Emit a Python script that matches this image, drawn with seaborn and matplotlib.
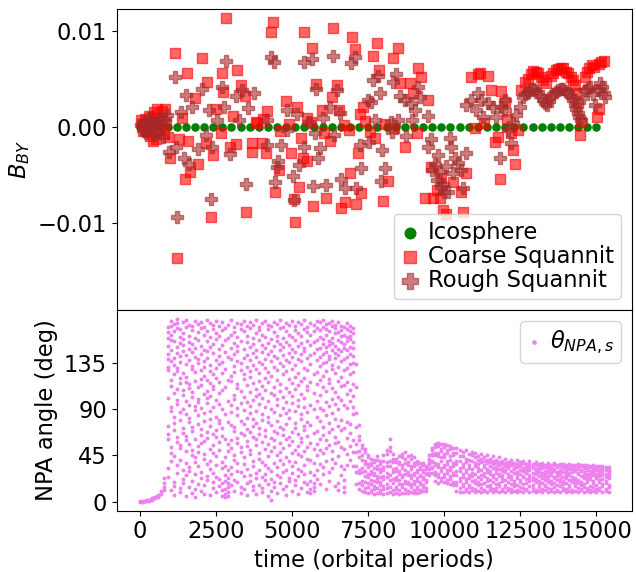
import numpy as np
import matplotlib
matplotlib.use("Agg")
import matplotlib.pyplot as plt
import seaborn as sns

# --- top panel: B_BY (values in units of 1e-3) ---
ico_t = [0, 300, 600, 900, 1200, 1500, 1800, 2100, 2400, 2700, 3000, 3300, 3600, 3900,
         4200, 4500, 4800, 5100, 5400, 5700, 6000, 6300, 6600, 6900, 7200, 7500, 7800,
         8100, 8400, 8700, 9000, 9300, 9600, 9900, 10200, 10500, 10800, 11100, 11400,
         11700, 12000, 12300, 12600, 12900, 13200, 13500, 13800, 14100, 14400, 14700, 15000]
ico_b = [0.0] * len(ico_t)

coarse_t = [30, 60, 100, 150, 200, 230, 280, 330, 380, 420, 459, 500, 524, 560, 620, 680,
            730, 780, 819, 860, 900, 983, 1146, 1212, 1277, 1376, 1474, 1540, 1572, 1638,
            1801, 1900, 2031, 2162, 2195, 2326, 2391, 2489, 2653, 2686, 2719, 2817, 2948,
            3046, 3144, 3177, 3308, 3439, 3472, 3669, 3690, 3800, 3832, 3996, 4050, 4127,
            4160, 4291, 4356, 4422, 4553, 4600, 4782, 4900, 4946, 5044, 5077, 5143, 5208,
            5273, 5339, 5372, 5470, 5500, 5601, 5634, 5699, 5798, 5994, 6050, 6125, 6256,
            6322, 6355, 6486, 6551, 6617, 6700, 6748, 6878, 6911, 6977, 7075, 7108, 7173,
            7239, 7272, 7337, 7400, 7550, 7665, 7730, 7790, 7861, 7992, 8050, 8156, 8320,
            8330, 8484, 8549, 8713, 8877, 8975, 9100, 9139, 9237, 9370, 9466, 9564, 9630,
            9750, 9850, 9892, 9957, 10056, 10285, 10547, 10613, 10711, 10875, 11006, 11104,
            11180, 11300, 11431, 11530, 11661, 11750, 11825, 11857, 11988, 12050, 12185,
            12250, 12316, 12414, 12512, 12643, 12740, 12840, 12920, 13004, 13080, 13167,
            13250, 13331, 13495, 13580, 13659, 13740, 13823, 13900, 13986, 14070, 14150,
            14220, 14281, 14314, 14380, 14445, 14478, 14641, 14700, 14772, 14850, 14936,
            15034, 15070, 15100, 15165, 15250]
coarse_b = [0.7, 0.3, -0.4, 0.8, 0.2, -0.5, 1.2, -0.9, 0.4, -1.5, 1.6, 0.9, -1.2, 1.9, -0.3,
            0.6, 1.7, -0.7, 1.9, 0.3, -1.0, -3.2, 7.7, -13.7, -1.2, 1.0, -5.4, 5.6, -1.5, -4.7,
            3.0, -3.9, 7.2, -1.7, 4.7, -9.4, -2.9, 1.9, -0.6, 5.7, 3.7, 11.4, -2.1, 1.2, -1.8,
            6.0, 4.4, 3.2, -8.9, -1.7, -2.6, 0.5, 0.4, -1.7, 0.8, -2.7, 1.7, 9.9, 11.0, -6.8,
            -4.5, -0.4, 2.7, 0.3, -2.7, -7.5, -9.9, 2.1, -6.3, -1.1, -3.2, 9.9, -3.5, 0.9, 0.5,
            8.3, -8.2, 4.5, 1.8, -0.6, -7.4, -1.5, 3.1, 10.3, 4.4, 1.8, -8.4, 0.2, -7.8, -0.3,
            -4.8, 9.4, 8.2, -8.0, -2.7, 1.4, -6.9, 2.1, 0.6, -0.5, 7.4, -1.1, 8.8, 6.0, -7.7,
            0.3, -5.6, 7.2, -0.1, 8.3, 4.6, -2.1, 4.6, 3.6, -0.6, 6.2, 5.2, -7.4, 2.8, -4.2,
            -7.4, -6.6, -7.4, -5.3, -8.7, -9.1, -5.7, -6.8, -8.9, -4.8, 5.2, -0.1, 5.5, 5.7,
            0.4, 5.3, 3.9, -1.6, -1.0, -5.4, 3.8, 2.6, 0.8, -0.6, -2.4, -3.9, -0.3, 3.9, 4.7,
            5.0, 5.5, 5.9, 5.8, 5.6, 5.2, 4.9, 4.6, 5.3, 5.7, 6.0, 6.1, 6.2, 6.2, 5.8, 5.6,
            5.2, 4.9, 4.4, 3.6, 2.5, -0.8, 0.5, 5.2, 5.8, 6.2, 6.5, 6.3, 1.1, 1.9, 6.6, 6.8,
            6.9]

rough_t = [20, 80, 130, 180, 240, 300, 350, 400, 450, 510, 570, 640, 700, 760, 820, 880,
           950, 1146, 1179, 1212, 1343, 1441, 1507, 1605, 1703, 1900, 2031, 2162, 2260, 2326,
           2358, 2522, 2686, 2751, 2817, 2948, 3144, 3243, 3341, 3472, 3537, 3734, 4160,
           4170, 4291, 4389, 4422, 4487, 4520, 4618, 4815, 4830, 5011, 5044, 5143, 5208,
           5372, 5390, 5536, 5634, 5699, 5765, 5798, 5863, 5929, 6027, 6125, 6256, 6355,
           6370, 6486, 6584, 6617, 6748, 6944, 7075, 7090, 7239, 7272, 7501, 7520, 7599,
           7665, 7730, 7828, 7894, 7927, 7960, 8058, 8254, 8270, 8320, 8418, 8484, 8549,
           8713, 8730, 8910, 8925, 9040, 9139, 9204, 9466, 9480, 9564, 9600, 9696, 9750,
           9794, 9859, 9900, 9957, 10000, 10050, 10121, 10187, 10219, 10300, 10350, 10449,
           10547, 10613, 10711, 10720, 10875, 11038, 11104, 11202, 11267, 11431, 11595,
           11693, 11825, 11857, 11988, 12000, 12086, 12185, 12250, 12349, 12480, 12578,
           12650, 12742, 12820, 12905, 12990, 13069, 13150, 13233, 13300, 13364, 13430,
           13495, 13580, 13659, 13740, 13823, 13900, 13986, 14070, 14150, 14220, 14281,
           14330, 14379, 14430, 14478, 14550, 14641, 14720, 14805, 14890, 14969, 15050,
           15133, 15200, 15264, 15297]
rough_b = [0.2, -0.3, 0.5, -0.6, 0.3, 0.9, -0.2, 0.6, -0.8, 0.4, -0.5, 1.0, 0.1, -1.0, 0.8,
           1.3, -2.6, 5.2, -2.1, -9.4, 1.6, -3.2, 3.4, -3.8, 2.1, -2.3, 4.0, -0.8, 1.8, -7.5,
           -2.1, 0.7, 4.2, 2.1, 6.9, -2.8, 3.3, 0.7, 3.9, -5.9, 2.0, 3.6, 0.7, -1.9, 7.3, 6.8,
           -5.7, -4.2, -3.5, -1.9, 1.8, -0.3, -5.1, -7.6, 1.4, -4.0, 6.8, -2.1, 0.5, 7.1,
           -6.1, -0.6, 4.0, -3.2, -2.2, 0.9, -6.0, 2.1, 7.4, -0.8, 3.9, 1.5, -5.4, -6.4, 6.7,
           7.3, -6.4, -1.9, -4.3, 2.8, -1.6, 2.6, 4.9, 0.7, 5.3, 3.6, -5.6, -2.4, -4.3, 0.5,
           -0.5, 4.7, 5.5, 0.7, 3.2, 2.8, -0.9, 2.5, 0.7, 1.8, 4.2, 3.1, 1.2, -2.1, -1.2,
           -4.5, -3.8, -5.5, -2.9, -4.7, -6.3, -5.9, -6.8, -4.1, -6.8, -1.1, -2.1, -4.8,
           -3.2, -3.7, -4.5, -6.4, -2.7, 2.3, 2.8, 1.8, 3.6, 2.8, 1.1, 2.5, 2.1, 1.1, -3.2,
           2.1, 1.8, 2.8, -0.3, -1.7, 0.4, 1.3, 2.1, 3.1, 3.5, 3.7, 3.9, 4.0, 3.9, 3.7, 3.3,
           2.8, 2.5, 2.3, 2.7, 3.2, 3.5, 3.7, 3.9, 4.0, 4.0, 3.8, 3.6, 3.3, 2.8, 2.3, 1.9,
           1.5, 1.1, 0.7, 3.0, 3.9, 4.1, 4.2, 3.5, 2.3, 3.9, 4.6, 4.2, 3.6, 3.1]

# --- bottom panel: NPA angle (deg), several samples per time step ---
npa_t = [0, 100, 200, 300, 400, 500, 600, 700, 800, 900, 1000, 1100, 1200, 1300, 1400,
         1500, 1600, 1700, 1800, 1900, 2000, 2100, 2200, 2300, 2400, 2500, 2600, 2700,
         2800, 2900, 3000, 3100, 3200, 3300, 3400, 3500, 3600, 3700, 3800, 3900, 4000,
         4100, 4200, 4300, 4400, 4500, 4600, 4700, 4800, 4900, 5000, 5100, 5200, 5300,
         5400, 5500, 5600, 5700, 5800, 5900, 6000, 6100, 6200, 6300, 6400, 6500, 6600,
         6700, 6800, 6900, 7000, 7100, 7200, 7300, 7400, 7500, 7600, 7700, 7800, 7900,
         8000, 8100, 8200, 8300, 8400, 8500, 8600, 8700, 8800, 8900, 9000, 9100, 9200,
         9300, 9400, 9500, 9600, 9700, 9800, 9900, 10000, 10100, 10200, 10300, 10400,
         10500, 10600, 10700, 10800, 10900, 11000, 11100, 11200, 11300, 11400, 11500,
         11600, 11700, 11800, 11900, 12000, 12100, 12200, 12300, 12400, 12500, 12600,
         12700, 12800, 12900, 13000, 13100, 13200, 13300, 13400, 13500, 13600, 13700,
         13800, 13900, 14000, 14100, 14200, 14300, 14400, 14500, 14600, 14700, 14800,
         14900, 15000, 15100, 15200, 15300, 15400]
npa_deg = [
    [0, 1], [0, 1, 0], [1, 1, 2], [1, 2, 2], [2, 3, 3], [3, 4, 4], [4, 5, 6], [7, 8, 10],
    [11, 14, 18, 23],
    [24, 33, 61, 66, 74, 101, 128, 131, 139, 144, 152, 160, 165, 170],
    [11, 40, 47, 53, 88, 92, 113, 119, 137, 148, 158, 163, 171, 176],
    [6, 15, 19, 44, 70, 77, 83, 106, 124, 133, 140, 157, 166, 173],
    [28, 36, 58, 63, 95, 99, 110, 127, 130, 145, 151, 169, 174, 178],
    [9, 13, 41, 52, 55, 80, 87, 116, 121, 136, 142, 155, 161, 168],
    [18, 22, 31, 67, 72, 90, 104, 109, 125, 147, 153, 159, 164, 175],
    [5, 26, 38, 49, 60, 64, 85, 98, 117, 122, 134, 143, 170, 177],
    [14, 30, 34, 56, 78, 82, 94, 111, 115, 138, 149, 156, 162, 172],
    [8, 20, 45, 50, 69, 73, 102, 107, 129, 132, 146, 154, 167, 171],
    [4, 12, 27, 39, 43, 61, 89, 93, 118, 126, 141, 150, 160, 176],
    [17, 35, 48, 54, 76, 84, 97, 100, 112, 135, 139, 158, 165, 173],
    [10, 23, 29, 57, 65, 71, 91, 114, 120, 128, 144, 152, 169, 175],
    [7, 16, 42, 46, 59, 79, 86, 105, 123, 131, 137, 148, 163, 170],
    [21, 25, 37, 62, 68, 96, 101, 108, 119, 140, 147, 157, 166, 177],
    [6, 32, 40, 51, 74, 81, 88, 103, 116, 127, 133, 151, 161, 174],
    [13, 19, 28, 47, 55, 66, 92, 110, 113, 124, 145, 154, 168, 172],
    [9, 24, 36, 44, 63, 70, 83, 99, 121, 130, 138, 159, 164, 176],
    [15, 22, 50, 58, 77, 80, 95, 106, 117, 134, 142, 149, 162, 171],
    [5, 11, 18, 33, 39, 64, 72, 90, 109, 125, 136, 153, 167, 175],
    [4, 7, 12, 20, 26, 35, 43, 61, 85, 112, 129, 146, 158, 169],
    [5, 9, 14, 18, 23, 31, 49, 56, 78, 98, 119, 141, 160, 172],
    [16, 27, 34, 52, 60, 75, 87, 94, 118, 123, 139, 150, 163, 177],
    [10, 21, 41, 45, 69, 73, 100, 104, 126, 132, 144, 155, 165, 170],
    [19, 30, 38, 57, 62, 84, 91, 111, 115, 137, 147, 152, 161, 174],
    [8, 14, 29, 48, 53, 67, 79, 96, 108, 128, 135, 157, 168, 173],
    [12, 25, 37, 43, 65, 76, 89, 102, 120, 124, 140, 149, 166, 176],
    [6, 18, 32, 54, 59, 71, 82, 97, 114, 131, 143, 156, 162, 171],
    [20, 26, 46, 50, 68, 86, 93, 107, 122, 127, 138, 151, 169, 175],
    [11, 15, 35, 40, 63, 74, 81, 99, 116, 133, 145, 154, 160, 172],
    [7, 23, 28, 55, 61, 77, 88, 103, 110, 129, 141, 148, 164, 177],
    [16, 31, 42, 47, 66, 72, 95, 105, 118, 125, 136, 158, 167, 170],
    [9, 13, 24, 39, 58, 80, 85, 101, 113, 134, 146, 153, 163, 174],
    [21, 27, 36, 51, 64, 70, 92, 109, 121, 130, 139, 150, 161, 176],
    [5, 17, 33, 44, 56, 78, 83, 98, 117, 126, 144, 155, 168, 172],
    [2, 10, 22, 30, 49, 62, 75, 90, 106, 123, 137, 147, 159, 171],
    [14, 19, 38, 53, 60, 69, 87, 104, 112, 131, 142, 152, 165, 175],
    [8, 26, 34, 45, 67, 79, 94, 100, 119, 128, 140, 157, 162, 173],
    [18, 24, 41, 48, 57, 73, 84, 108, 115, 135, 148, 154, 169, 177],
    [12, 29, 37, 52, 65, 71, 91, 102, 124, 132, 143, 151, 160, 170],
    [6, 15, 31, 43, 61, 76, 86, 97, 111, 127, 138, 156, 166, 174],
    [20, 23, 40, 55, 63, 82, 89, 107, 120, 136, 145, 153, 163, 172],
    [10, 28, 35, 47, 59, 68, 96, 103, 116, 129, 141, 149, 161, 176],
    [16, 21, 39, 50, 72, 77, 88, 110, 122, 133, 146, 158, 167, 171],
    [7, 25, 32, 46, 54, 66, 93, 99, 114, 125, 139, 152, 164, 175],
    [13, 30, 44, 58, 62, 81, 85, 105, 118, 137, 144, 155, 162, 173],
    [19, 27, 36, 49, 70, 74, 92, 101, 121, 130, 147, 150, 168, 177],
    [9, 17, 42, 53, 64, 78, 87, 109, 113, 128, 140, 157, 165, 170],
    [8, 12, 20, 29, 41, 57, 75, 94, 117, 134, 143, 153, 163, 174],
    [10, 14, 18, 26, 38, 51, 67, 90, 106, 124, 145, 156, 166, 172],
    [22, 31, 45, 56, 69, 83, 98, 115, 126, 138, 149, 158, 169, 176],
    [17, 37, 50, 61, 79, 91, 104, 119, 132, 141, 150, 161, 167, 175],
    [27, 34, 47, 65, 73, 89, 112, 123, 135, 144, 154, 159, 170, 177],
    [12, 40, 52, 60, 84, 97, 108, 127, 136, 146, 151, 163, 168, 173],
    [20, 29, 55, 68, 77, 93, 116, 120, 139, 142, 153, 157, 166, 174],
    [33, 42, 49, 71, 86, 100, 111, 129, 133, 148, 155, 160, 171, 176],
    [15, 38, 57, 63, 81, 95, 107, 125, 140, 145, 152, 164, 169, 172],
    [11, 18, 44, 58, 74, 90, 102, 118, 131, 143, 149, 158, 165, 175],
    [26, 35, 53, 70, 80, 99, 113, 122, 137, 147, 156, 162, 167, 171],
    [9, 14, 21, 32, 51, 72, 94, 114, 128, 139, 150, 154, 163, 170],
    [36, 46, 62, 78, 91, 105, 117, 130, 141, 148, 157, 161, 168, 174],
    [41, 54, 67, 76, 98, 109, 124, 134, 144, 151, 159, 162, 166, 171],
    [35, 48, 60, 85, 92, 103, 115, 126, 135, 142, 150, 156, 164, 169],
    [17, 29, 35, 48, 56, 73, 86, 112, 134],
    [12, 18, 28, 31, 43, 49, 60, 64, 75],
    [10, 16, 20, 29, 33, 41, 45, 52, 55],
    [9, 13, 19, 25, 30, 37, 40, 48, 51],
    [8, 14, 18, 24, 27, 34, 37, 43, 45],
    [9, 11, 17, 21, 27, 30, 36, 38, 42],
    [7, 12, 15, 20, 26, 28, 33, 39, 41],
    [8, 13, 19, 22, 25, 32, 35, 41, 44],
    [8, 11, 16, 19, 24, 29, 32, 37, 40],
    [7, 12, 15, 22, 25, 31, 34, 40, 45],
    [8, 13, 17, 24, 28, 35, 39, 46, 50],
    [9, 14, 21, 26, 35, 40, 49, 53, 61],
    [7, 11, 18, 22, 29, 32, 39, 42, 46],
    [8, 12, 14, 21, 24, 30, 33, 39, 42],
    [7, 11, 17, 21, 27, 30, 37, 39, 44],
    [8, 14, 17, 24, 26, 33, 36, 43, 46],
    [8, 12, 18, 20, 27, 31, 38, 42, 48],
    [8, 10, 17, 19, 26, 29, 36, 39, 44],
    [9, 14, 17, 23, 26, 32, 35, 42, 45],
    [8, 11, 17, 20, 26, 28, 35, 38, 43],
    [8, 12, 14, 20, 23, 29, 31, 37, 40],
    [9, 11, 17, 19, 25, 26, 32, 34, 38],
    [10, 14, 16, 22, 24, 29, 31, 36, 38],
    [10, 13, 19, 21, 27, 28, 32, 34, 35],
    [26, 28, 32, 33, 37, 38, 41, 42, 45],
    [28, 33, 34, 39, 40, 45, 46, 50, 52],
    [20, 26, 29, 36, 38, 45, 47, 53, 56],
    [18, 24, 27, 34, 37, 44, 47, 54, 57],
    [20, 23, 30, 33, 40, 43, 49, 51, 56],
    [19, 24, 27, 34, 36, 43, 46, 53, 56],
    [18, 21, 28, 31, 37, 40, 47, 50, 55],
    [17, 22, 25, 31, 34, 41, 44, 51, 54],
    [16, 19, 26, 28, 35, 38, 45, 47, 52],
    [10, 16, 19, 26, 30, 37, 40, 47, 52],
    [9, 13, 20, 23, 30, 33, 40, 44, 50],
    [9, 15, 17, 24, 27, 34, 37, 44, 48],
    [10, 12, 19, 22, 29, 31, 39, 42, 50],
    [9, 14, 16, 23, 26, 33, 36, 41, 46],
    [11, 13, 20, 25, 28, 32, 40, 45, 48],
    [9, 12, 18, 21, 27, 35, 38, 43, 47],
    [10, 16, 19, 24, 30, 33, 37, 41, 44],
    [9, 13, 17, 22, 26, 31, 39, 42, 46],
    [10, 11, 18, 25, 28, 34, 36, 40, 43],
    [9, 15, 20, 23, 29, 32, 38, 41, 45],
    [11, 14, 16, 21, 27, 30, 35, 39, 42],
    [9, 12, 19, 24, 26, 33, 37, 40, 44],
    [10, 13, 17, 22, 28, 31, 34, 38, 41],
    [9, 15, 18, 25, 27, 32, 36, 39, 43],
    [10, 12, 20, 23, 26, 30, 33, 37, 40],
    [9, 14, 16, 21, 29, 31, 35, 38, 42],
    [11, 13, 19, 24, 27, 33, 34, 36, 39],
    [9, 12, 17, 22, 25, 30, 36, 38, 41],
    [10, 15, 18, 20, 28, 32, 33, 35, 38],
    [9, 11, 16, 23, 26, 29, 34, 37, 41],
    [10, 14, 19, 21, 27, 31, 35, 36, 39],
    [9, 13, 17, 24, 25, 30, 33, 38, 40],
    [11, 12, 18, 22, 28, 29, 32, 35, 37],
    [9, 15, 20, 23, 26, 31, 34, 37, 40],
    [10, 13, 16, 21, 24, 28, 33, 35, 37],
    [9, 11, 19, 22, 27, 30, 32, 36, 39],
    [10, 14, 17, 20, 25, 29, 31, 34, 37],
    [9, 12, 18, 23, 26, 28, 33, 35, 38],
    [11, 15, 16, 21, 24, 27, 30, 34, 36],
    [9, 13, 19, 22, 25, 29, 32, 35, 38],
    [10, 12, 17, 20, 26, 28, 31, 33, 36],
    [9, 14, 18, 23, 24, 30, 32, 36, 38],
    [10, 11, 16, 21, 25, 27, 29, 34, 36],
    [9, 15, 19, 22, 26, 28, 31, 35, 37],
    [11, 13, 17, 20, 24, 29, 33, 34, 37],
    [9, 12, 18, 23, 25, 27, 30, 33, 36],
    [10, 14, 16, 21, 26, 28, 32, 35, 37],
    [9, 11, 19, 22, 24, 29, 31, 34, 36],
    [10, 15, 17, 20, 23, 30, 33, 35, 36],
    [9, 13, 18, 21, 27, 28, 32, 34, 37],
    [11, 12, 16, 19, 25, 30, 31, 35, 36],
    [9, 14, 17, 23, 26, 29, 33, 34, 36],
    [10, 13, 19, 21, 24, 27, 31, 33, 36],
    [9, 11, 15, 22, 25, 28, 30, 34, 35],
    [10, 14, 18, 20, 26, 29, 32, 33, 36],
    [9, 12, 16, 23, 24, 27, 31, 34, 35],
    [11, 13, 19, 21, 25, 28, 30, 33, 35],
    [9, 15, 17, 22, 26, 29, 32, 34, 35],
    [10, 12, 18, 20, 24, 27, 31, 33, 34],
    [9, 14, 16, 23, 25, 28, 30, 32, 34],
]

plt.rcParams["font.size"] = 16.3

fig = plt.figure(figsize=(6.36, 5.72), dpi=100)
ax1 = fig.add_axes([0.1835, 0.458, 0.8102, 0.5257])
ax2 = fig.add_axes([0.1835, 0.1072, 0.8102, 0.3508], sharex=ax1)

sns.scatterplot(x=ico_t, y=ico_b, ax=ax1, color="green", marker="o", s=38,
                linewidth=0, label="Icosphere")
sns.scatterplot(x=coarse_t, y=np.array(coarse_b) * 1e-3, ax=ax1, color="red", marker="s",
                s=42, alpha=0.6, edgecolor="red", linewidth=1, label="Coarse Squannit")
sns.scatterplot(x=rough_t, y=np.array(rough_b) * 1e-3, ax=ax1, color="brown", marker="P",
                s=64, alpha=0.6, edgecolor="brown", linewidth=1, label="Rough Squannit")
ax1.set_ylim(-0.0191, 0.0123)
ax1.set_yticks([-0.01, 0.0, 0.01])
ax1.set_ylabel("$B_{BY}$")
ax1.tick_params(labelbottom=False)
ax1.legend(loc="lower right", markerscale=1.4, handlelength=0.8, handletextpad=0.4,
           labelspacing=0.05, borderpad=0.3)

t_flat = np.repeat(npa_t, [len(r) for r in npa_deg])
deg_flat = np.concatenate(npa_deg)
sns.scatterplot(x=t_flat, y=deg_flat, ax=ax2, color="violet", marker="o", s=8,
                linewidth=0, label=r"$\theta_{NPA,s}$")
ax2.set_yticks([0, 45, 90, 135])
ax2.set_ylabel("NPA angle (deg)")
ax2.set_xlabel("time (orbital periods)")
ax2.set_xticks([0, 2500, 5000, 7500, 10000, 12500, 15000])
ax2.legend(loc="upper right", markerscale=1.2, handlelength=0.6, handletextpad=0.4,
           borderpad=0.3)

fig.savefig("out.png", dpi=100)
